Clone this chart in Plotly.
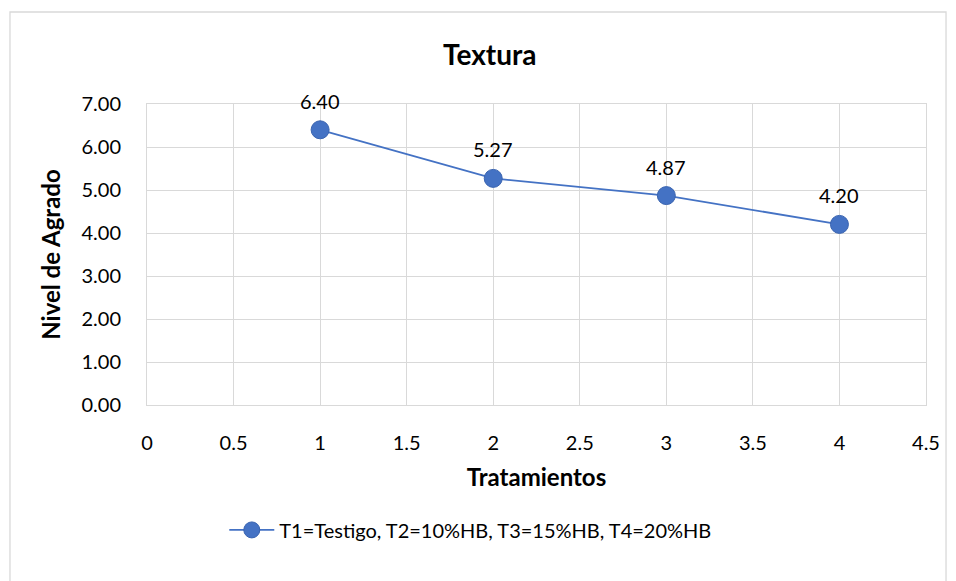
import plotly.graph_objects as go

# Texture acceptance per treatment
tratamientos = [1, 2, 3, 4]
nivel_agrado = [6.40, 5.27, 4.87, 4.20]
serie_nombre = "T1=Testigo, T2=10%HB, T3=15%HB, T4=20%HB"

AZUL = "#4472C4"
GRIS = "#D9D9D9"
TEXTO = "#000000"
FUENTE = "Lato"

fig = go.Figure()
fig.add_trace(go.Scatter(
    x=tratamientos, y=nivel_agrado, mode="lines+markers", name=serie_nombre,
    line=dict(color=AZUL, width=1.75),
    marker=dict(size=18, color=AZUL, line=dict(color="#3A64B0", width=1)),
))

for xv, yv in zip(tratamientos, nivel_agrado):
    fig.add_annotation(x=xv, y=yv, text=f"{yv:.2f}", showarrow=False,
                       yshift=29, font=dict(size=20, color=TEXTO, family=FUENTE))

# outer chart frame
fig.add_shape(type="rect", xref="paper", yref="paper",
              x0=-0.1759, x1=1.0257, y0=-0.598, y1=1.3056,
              line=dict(color=GRIS, width=1.3), fillcolor="rgba(0,0,0,0)", layer="below")

fig.update_layout(
    width=956, height=581,
    margin=dict(l=147, r=30, t=104, b=176),
    paper_bgcolor="white", plot_bgcolor="white",
    font=dict(family=FUENTE, color=TEXTO, size=20),
    title=dict(text="<b>Textura</b>", x=0.44, xref="paper", xanchor="center",
               y=0.905, yanchor="middle", font=dict(size=28, family=FUENTE)),
    showlegend=True,
    legend=dict(orientation="h", x=0.415, xanchor="center", y=-0.415, yanchor="middle",
                font=dict(size=20, family=FUENTE), itemwidth=45, bgcolor="rgba(0,0,0,0)"),
    xaxis=dict(range=[0, 4.5], dtick=0.5, tick0=0, showgrid=True, gridcolor=GRIS, gridwidth=1,
               showline=True, linecolor=GRIS, mirror=True, zeroline=False,
               ticks="outside", ticklen=20, tickcolor="rgba(0,0,0,0)",
               tickfont=dict(size=20),
               title=dict(text="<b>Tratamientos</b>", font=dict(size=24), standoff=16)),
    yaxis=dict(range=[0, 7], dtick=1, tick0=0, tickformat=".2f", showgrid=True,
               gridcolor=GRIS, gridwidth=1, showline=True, linecolor=GRIS, mirror=True,
               zeroline=False, ticks="outside", ticklen=21, tickcolor="rgba(0,0,0,0)",
               tickfont=dict(size=20),
               title=dict(text="<b>Nivel de Agrado</b>", font=dict(size=24), standoff=14)),
)

fig.write_html("out.html")
